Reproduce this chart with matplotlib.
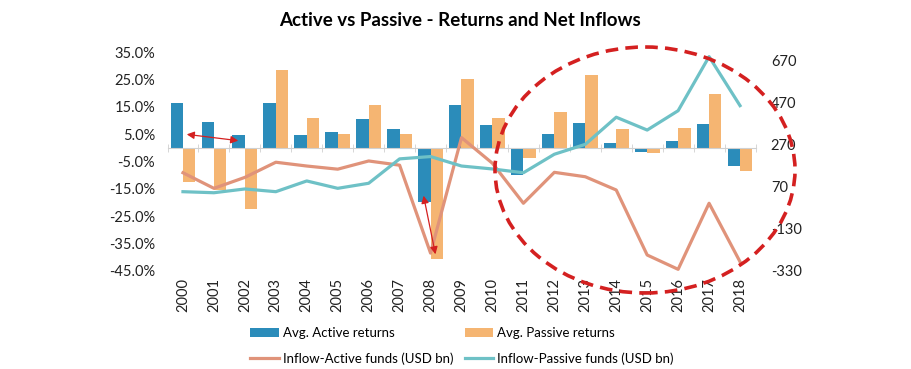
import numpy as np
import matplotlib.pyplot as plt
from matplotlib.patches import Ellipse, FancyArrowPatch

plt.rcParams['font.family'] = ['Lato', 'DejaVu Sans']

# ------------------------------------------------------------
# data
# ------------------------------------------------------------
years = [str(y) for y in range(2000, 2019)]
active_returns = [16.5, 9.5, 4.8, 16.5, 4.8, 5.8, 10.6, 6.9, -19.7, 15.7,
                  8.4, -10.1, 5.1, 9.1, 1.8, -1.5, 2.6, 8.8, -6.8]
passive_returns = [-12.4, -15.5, -22.3, 28.5, 11.0, 5.1, 15.7, 5.1, -40.5, 25.2,
                   11.0, -3.9, 13.1, 26.7, 6.9, -1.8, 7.3, 19.7, -8.3]
inflow_active = [137, 63, 115, 187, 169, 154, 193, 173, -245, 304,
                 182, -8, 139, 118, 55, -254, -322, -8, -286]
inflow_passive = [47, 42, 60, 47, 98, 63, 87, 203, 214, 169,
                  155, 137, 225, 272, 401, 340, 432, 689, 456]

left_ticks = [35, 25, 15, 5, -5, -15, -25, -35, -45]
right_ticks = [670, 470, 270, 70, -130, -330]

C_ACT = "#2B8CBA"
C_PAS = "#F5B572"
C_INA = "#E0937A"
C_INP = "#6EC1C6"

W, H = 911, 369
fig = plt.figure(figsize=(W / 100, H / 100), dpi=100)

# plot area in pixels
x0, x1, y0, y1 = 167.5, 755.5, 52, 271
ax = fig.add_axes([x0 / W, 1 - y1 / H, (x1 - x0) / W, (y1 - y0) / H])
ax2 = ax.twinx()

x = np.arange(len(years))
bw = 0.4
b1 = ax.bar(x - bw / 2, active_returns, width=bw, color=C_ACT, label="Avg. Active returns", zorder=2)
b2 = ax.bar(x + bw / 2, passive_returns, width=bw, color=C_PAS, label="Avg. Passive returns", zorder=2)

l1, = ax2.plot(x, inflow_active, color=C_INA, lw=2.3, label="Inflow-Active funds (USD bn)")
l2, = ax2.plot(x, inflow_passive, color=C_INP, lw=2.3, label="Inflow-Passive funds (USD bn)")

ax.set_xlim(-0.5, len(years) - 0.5)
ax.set_ylim(-45, 35)
ax2.set_ylim(-330, 711)

ax.set_yticks(left_ticks)
ax.set_yticklabels([f"{v:.1f}%" for v in left_ticks])
ax2.set_yticks(right_ticks)
ax2.set_yticklabels([str(v) for v in right_ticks])

for a in (ax, ax2):
    for s in a.spines.values():
        s.set_visible(False)
    a.tick_params(axis='y', length=0, labelsize=10.5, colors="#222222")
ax.tick_params(axis='y', pad=9)
ax2.tick_params(axis='y', pad=11)

# category axis crossing at zero, labels kept at the bottom
ax.spines['bottom'].set_visible(True)
ax.spines['bottom'].set_position(('data', 0))
ax.spines['bottom'].set_color("#D0D0D0")
ax.set_xticks(x)
ax.set_xticklabels(years, rotation=90)
ax.set_xticks(np.arange(len(years) + 1) - 0.5, minor=True)
ax.tick_params(axis='x', which='major', length=0, labelsize=10.5, colors="#222222",
               pad=(271 - 148 + 7) * 0.72)
ax.tick_params(axis='x', which='minor', length=6, direction='inout', color="#D0D0D0")

fig.text(460 / W, 1 - 21 / H, "Active vs Passive - Returns and Net Inflows",
         ha='center', va='center', fontsize=13.5, fontweight='bold')

# legend: two rows (bars on top, lines below); matplotlib fills column-wise
handles = [b1, l1, b2, l2]
labels = [h.get_label() for h in handles]
fig.legend(handles, labels, ncol=2, loc='center', bbox_to_anchor=(462 / W, 1 - 346 / H),
           frameon=False, fontsize=9.5, handlelength=2.15, handleheight=0.6,
           columnspacing=0.9, handletextpad=0.3, labelspacing=1.0,
           borderpad=0, borderaxespad=0)

# annotations: red dashed circle and arrows
def px(xp, yp):
    return (xp / W, 1 - yp / H)

ell = Ellipse(px(645, 170), 300 / W, 246 / H, transform=fig.transFigure, fill=False,
              edgecolor="#D42020", lw=2.6, linestyle=(0, (3.5, 2)), zorder=10)
fig.patches.append(ell)

for a, b in [((184, 134), (241, 141)), ((423, 193), (436, 257))]:
    arr = FancyArrowPatch(px(*a), px(*b), transform=fig.transFigure, arrowstyle='<|-|>',
                          mutation_scale=11, color="#D42020", lw=0.9, zorder=10)
    fig.patches.append(arr)

fig.savefig("out.png", dpi=100)
